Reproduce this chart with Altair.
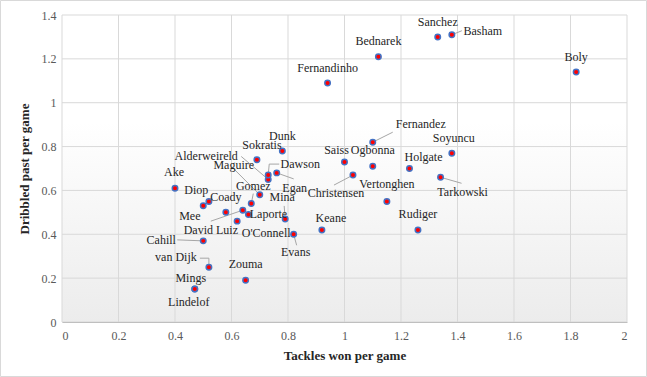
import altair as alt
import pandas as pd

# ---------------- data ----------------
players = ["Sanchez", "Basham", "Bednarek", "Fernandinho", "Boly", "Fernandez",
           "Soyuncu", "Holgate", "Tarkowski", "Vertonghen", "Rudiger", "Keane",
           "Saiss", "Ogbonna", "Christensen", "Dunk", "Sokratis", "Alderweireld",
           "Maguire", "Dawson", "Egan", "Gomez", "Mina", "Mee", "Laporte",
           "David Luiz", "O'Connell", "Evans", "Ake", "Diop", "Coady", "Cahill",
           "van Dijk", "Zouma", "Mings", "Lindelof"]
tackles_won = [1.33, 1.38, 1.12, 0.94, 1.82, 1.10,
               1.38, 1.23, 1.34, 1.15, 1.26, 0.92,
               1.00, 1.10, 1.03, 0.78, 0.69, 0.73,
               0.70, 0.73, 0.76, 0.67, 0.79, 0.64, 0.66,
               0.58, 0.62, 0.82, 0.40, 0.50, 0.52, 0.50,
               0.52, 0.65, 0.47, 0.47]
dribbled_past = [1.30, 1.31, 1.21, 1.09, 1.14, 0.82,
                 0.77, 0.70, 0.66, 0.55, 0.42, 0.42,
                 0.73, 0.71, 0.67, 0.78, 0.74, 0.65,
                 0.58, 0.67, 0.68, 0.54, 0.47, 0.51, 0.49,
                 0.50, 0.46, 0.40, 0.61, 0.53, 0.55, 0.37,
                 0.25, 0.19, 0.15, 0.15]

x_ticks = [0, 0.2, 0.4, 0.6, 0.8, 1, 1.2, 1.4, 1.6, 1.8, 2]
y_ticks = [0, 0.2, 0.4, 0.6, 0.8, 1, 1.2, 1.4]

# ---------------- layout (not data) ----------------
W, H = 565, 307
X_MAX, Y_MAX = 2.0, 1.4
PX_X = W / X_MAX
PX_Y = H / Y_MAX

# label centre offsets from the point, in pixels (dy positive = down)
label_offset = {
    "Sanchez": (0, -15), "Basham": (31, -4), "Bednarek": (0, -16),
    "Fernandinho": (0, -15), "Boly": (0, -15), "Fernandez": (48, -18),
    "Soyuncu": (2, -15), "Holgate": (14, -12), "Tarkowski": (22, 15),
    "Vertonghen": (0, -17), "Rudiger": (0, -16), "Keane": (9, -12),
    "Saiss": (-8, -12), "Ogbonna": (0, -16), "Christensen": (-17, 18),
    "Dunk": (0, -15), "Sokratis": (5, -15), "Alderweireld": (-62, -23),
    "Maguire": (-26, -30), "Dawson": (32, -11), "Egan": (18, 15),
    "Gomez": (2, -18), "Mina": (-3, -22), "Mee": (-53, 6),
    "Laporte": (20, -1), "David Luiz": (-15, 18), "O'Connell": (29, 12),
    "Evans": (2, 18), "Ake": (-1, -16), "Diop": (-7, -16),
    "Coady": (17, -4), "Cahill": (-42, -1), "van Dijk": (-33, -10),
    "Zouma": (0, -16), "Mings": (-4, -11), "Lindelof": (-6, 13),
}

# leader line segments, pixel offsets from the point
leader_segments = [
    ("Basham", 0, 0, 10, -4),
    ("Fernandez", 0, 0, 20, -10),
    ("Alderweireld", 0, 0, -27, -23),
    ("Dawson", 0, 0, 1, -11),
    ("Dawson", 1, -11, 11, -11),
    ("Egan", 0, 0, 17, 6),
    ("Maguire", 0, 0, -26, -26),
    ("Gomez", 0, 0, 2, -10),
    ("Mina", 0, 0, -1, -13),
    ("Mee", 0, 0, -32, 11),
    ("Christensen", 0, 0, -19, 10),
    ("Tarkowski", 0, 0, 21, 6),
    ("Evans", 0, 0, 3, 11),
    ("Cahill", 0, 0, -26, -1),
    ("van Dijk", 0, 0, 0, -9),
    ("van Dijk", 0, -9, -9, -9),
]

FONT = "Liberation Serif"

df = pd.DataFrame({"player": players, "tackles": tackles_won, "dribbled": dribbled_past})
df["lx"] = [t + label_offset[p][0] / PX_X for p, t in zip(players, tackles_won)]
df["ly"] = [d - label_offset[p][1] / PX_Y for p, d in zip(players, dribbled_past)]

pos = {p: (t, d) for p, t, d in zip(players, tackles_won, dribbled_past)}
lead = pd.DataFrame([
    {"player": p,
     "tackles": pos[p][0] + x1 / PX_X, "dribbled": pos[p][1] - y1 / PX_Y,
     "tx2": pos[p][0] + x2 / PX_X, "dy2": pos[p][1] - y2 / PX_Y}
    for p, x1, y1, x2, y2 in leader_segments
])

xscale = alt.Scale(domain=[0, X_MAX], nice=False, zero=False)
yscale = alt.Scale(domain=[0, Y_MAX], nice=False, zero=False)
XT = "Tackles won per game"
YT = "Dribbled past per game"

x_axis = alt.Axis(values=x_ticks, format="~g", grid=False, ticks=False, domain=True,
                  domainColor="#bfbfbf", labelPadding=8, title=XT, titlePadding=8,
                  zindex=1)
y_axis = alt.Axis(values=y_ticks, format="~g", grid=False, ticks=False, domain=False,
                  labelPadding=6, title=YT, titlePadding=10, zindex=1)

one = alt.Data(values=[{}])

outer = alt.Chart(one).mark_rect(fillOpacity=0, stroke="#d9d9d9", strokeWidth=1).encode(
    x=alt.value(-61.5), x2=alt.value(W + 19.5), y=alt.value(-14.5), y2=alt.value(H + 54.5))

bg = alt.Chart(one).mark_rect(
    fill={"gradient": "linear", "x1": 0, "y1": 0, "x2": 0, "y2": 1,
          "stops": [{"offset": 0, "color": "#ffffff"},
                    {"offset": 0.35, "color": "#ffffff"},
                    {"offset": 1, "color": "#ececec"}]}
).encode(x=alt.value(0), x2=alt.value(W), y=alt.value(0), y2=alt.value(H))

grid_x = alt.Chart(pd.DataFrame({"tackles": x_ticks})).mark_rule(
    color="#d9d9d9", strokeWidth=1).encode(
    x=alt.X("tackles:Q", scale=xscale, axis=x_axis), y=alt.value(0), y2=alt.value(H))
grid_y = alt.Chart(pd.DataFrame({"dribbled": y_ticks})).mark_rule(
    color="#d9d9d9", strokeWidth=1).encode(
    y=alt.Y("dribbled:Q", scale=yscale, axis=y_axis), x=alt.value(0), x2=alt.value(W))

leaders = alt.Chart(lead).mark_rule(color="#a6a6a6", strokeWidth=1).encode(
    x=alt.X("tackles:Q", scale=xscale, title=XT),
    y=alt.Y("dribbled:Q", scale=yscale, title=YT),
    x2="tx2:Q", y2="dy2:Q")

points = alt.Chart(df).mark_circle(color="#ff0000", stroke="#4472c4", strokeWidth=1.5,
                                   size=30, opacity=1).encode(
    x=alt.X("tackles:Q", scale=xscale, title=XT),
    y=alt.Y("dribbled:Q", scale=yscale, title=YT))

labels = alt.Chart(df).mark_text(font=FONT, fontSize=12, color="#262626",
                                 align="center", baseline="middle").encode(
    x=alt.X("lx:Q", scale=xscale, title=XT),
    y=alt.Y("ly:Q", scale=yscale, title=YT),
    text="player:N")

chart = alt.layer(outer, bg, grid_x, grid_y, leaders, points, labels).properties(
    width=W, height=H, autosize="none",
    padding={"left": 62, "top": 15, "right": 20, "bottom": 55},
).configure(background="white", font=FONT).configure_view(stroke=None).configure_axis(
    labelFont=FONT, labelFontSize=12, labelColor="#595959",
    titleFont=FONT, titleFontSize=13, titleFontWeight="bold", titleColor="#262626")

chart.save("out.html", embed_options={"renderer": "svg", "actions": False})
